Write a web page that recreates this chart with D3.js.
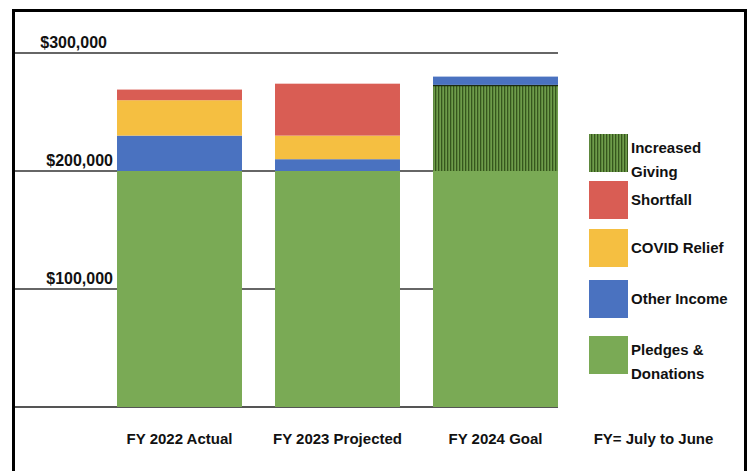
<!DOCTYPE html>
<html><head><meta charset="utf-8">
<script src="https://cdn.jsdelivr.net/npm/d3@7"></script>
<style>
html,body{margin:0;padding:0;background:#fff;}
text{font-family:"Liberation Sans Narrow","Liberation Sans",Arial,sans-serif;font-weight:bold;fill:#111;}
</style></head>
<body><svg id="c" width="753" height="471"></svg>
<script>
const categories = ["FY 2022 Actual", "FY 2023 Projected", "FY 2024 Goal", "FY= July to June"];
const barCategories = ["FY 2022 Actual", "FY 2023 Projected", "FY 2024 Goal"];
const pledges   = [200000, 200000, 200000];
const increased = [0, 0, 73000];
const other     = [30000, 10000, 7000];
const covid     = [30000, 20000, 0];
const shortfall = [9000, 44000, 0];
const tickValues = [100000, 200000, 300000];
const seriesNames = ["Pledges & Donations", "Increased Giving", "Other Income", "COVID Relief", "Shortfall"];
const legendOrder = ["Increased Giving", "Shortfall", "COVID Relief", "Other Income", "Pledges & Donations"];
const legendLines = {"Increased Giving":["Increased","Giving"],"Shortfall":["Shortfall"],"COVID Relief":["COVID Relief"],"Other Income":["Other Income"],"Pledges & Donations":["Pledges &","Donations"]};

const colors = {"Pledges & Donations":"#7aaa55","Increased Giving":"url(#hatch)","Other Income":"#4a72c0","COVID Relief":"#f5bf41","Shortfall":"#d95d54"};

const seriesVals = {"Pledges & Donations":pledges,"Increased Giving":increased,"Other Income":other,"COVID Relief":covid,"Shortfall":shortfall};
const table = barCategories.map((c,i)=>{const o={cat:c};seriesNames.forEach(s=>o[s]=seriesVals[s][i]);return o;});

const svg = d3.select("#c");
const defs = svg.append("defs");
const pat = defs.append("pattern").attr("id","hatch").attr("patternUnits","userSpaceOnUse").attr("width",3).attr("height",10);
pat.append("rect").attr("width",3).attr("height",10).attr("fill","#6e9c4a");
pat.append("rect").attr("x",0).attr("width",1.3).attr("height",10).attr("fill","#36561d");

const x = d3.scaleBand().domain(categories).range([100.5, 732.5]).paddingInner(0.209).paddingOuter(0.1045);
const y = d3.scaleLinear().domain([0, 300000]).range([407, 53]);

// frame
svg.append("rect").attr("x",13.5).attr("y",10.5).attr("width",732).attr("height",480).attr("fill","none").attr("stroke","#000").attr("stroke-width",3);

// gridlines
const gridX0 = 15, gridX1 = x("FY 2024 Goal") + x.bandwidth();
svg.append("g").selectAll("line").data(tickValues).join("line")
  .attr("x1",gridX0).attr("x2",gridX1).attr("y1",d=>y(d)).attr("y2",d=>y(d))
  .attr("stroke","#333").attr("stroke-width",1.3);
svg.append("line").attr("x1",gridX0).attr("x2",gridX1).attr("y1",y(0)).attr("y2",y(0)).attr("stroke","#555").attr("stroke-width",2);

// y labels
const yAxis = d3.axisLeft(y).tickValues(tickValues).tickSize(0).tickFormat(d=>"$"+d3.format(",")(d));
const ya = svg.append("g").attr("transform","translate(113,0)").call(yAxis);
ya.select(".domain").remove();
ya.selectAll("text").attr("dy","-0.35em").attr("x",d=>d===300000?-6:0).attr("text-anchor","end").style("font-size","16px");

// stacked bars
const stack = d3.stack().keys(seriesNames)(table);
const gBars = svg.append("g");
stack.forEach(layer=>{
  gBars.append("g").selectAll("rect").data(layer.filter(d=>d[1]>d[0])).join("rect")
    .attr("x",d=>x(d.data.cat)).attr("width",x.bandwidth())
    .attr("y",d=>y(d[1])).attr("height",d=>y(d[0])-y(d[1]))
    .attr("fill",colors[layer.key]);
  if(layer.key==="Increased Giving"){
    gBars.append("g").selectAll("line").data(layer.filter(d=>d[1]>d[0])).join("line")
      .attr("x1",d=>x(d.data.cat)).attr("x2",d=>x(d.data.cat)+x.bandwidth())
      .attr("y1",d=>y(d[1])+0.75).attr("y2",d=>y(d[1])+0.75).attr("stroke","#1a2a10").attr("stroke-width",1.5);
  }
});

// x labels
const xAxis = d3.axisBottom(x).tickSize(0);
const xa = svg.append("g").attr("transform","translate(0,430)").call(xAxis);
xa.select(".domain").remove();
xa.selectAll("text").style("font-size","15px").attr("dy","0.7em");

// legend
const legTops = [134, 181, 229, 280, 336];
const lg = svg.append("g");
legendOrder.forEach((k,i)=>{
  const t = legTops[i];
  lg.append("rect").attr("x",589).attr("y",t).attr("width",39).attr("height",38).attr("fill",colors[k]);
  const lines = legendLines[k];
  const cy = t + 19;
  lines.forEach((ln,j)=>{
    const yy = lines.length===1 ? cy : t + (j===0 ? 19 : 43);
    lg.append("text").attr("x",631).attr("y",yy).attr("dy",lines.length===1?"0.35em":"0").style("font-size","15px").text(ln);
  });
});
</script></body></html>
